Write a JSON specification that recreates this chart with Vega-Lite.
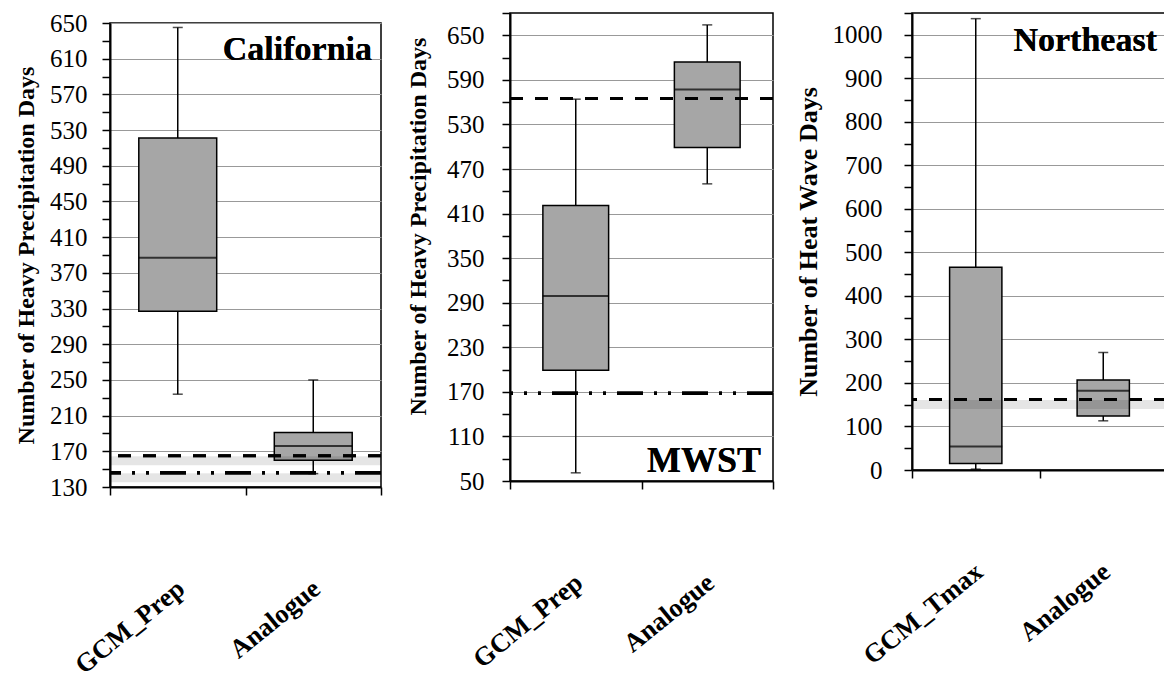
{
  "$schema": "https://vega.github.io/schema/vega-lite/v6.json",
  "background": "white",
  "padding": {"left": 13, "top": 10, "right": 0, "bottom": 0},
  "config": {
    "view": {"stroke": "black", "strokeWidth": 1.5},
    "font": "Liberation Serif",
    "axis": {
      "labelFont": "Liberation Serif", "labelFontSize": 25, "labelColor": "black",
      "titleFont": "Liberation Serif", "titleFontWeight": "bold", "titleColor": "black", "titleFontSize": 24,
      "tickColor": "black", "tickWidth": 1.5, "tickSize": 8,
      "domainColor": "black", "domainWidth": 2,
      "gridColor": "#999999", "gridWidth": 1
    },
    "axisX": {"grid": false, "labelAngle": -39, "labelFontWeight": "bold", "labelPadding": 80, "labelOffset": -5, "tickBand": "extent", "title": null, "labelFontSize": 26.5},
    "axisY": {"labelOverlap": false, "format": "d"}
  },
  "datasets": {
    "cal": [
      {"cat": "GCM_Prep", "lo": 234, "q1": 327, "med": 387, "q3": 521, "hi": 645},
      {"cat": "Analogue", "lo": 145, "q1": 160, "med": 176, "q3": 191, "hi": 250}
    ],
    "mwst": [
      {"cat": "GCM_Prep", "lo": 61, "q1": 199, "med": 299, "q3": 421, "hi": 564},
      {"cat": "Analogue", "lo": 450, "q1": 499, "med": 577, "q3": 614, "hi": 664}
    ],
    "ne": [
      {"cat": "GCM_Tmax", "lo": 2, "q1": 15, "med": 54, "q3": 466, "hi": 1037},
      {"cat": "Analogue", "lo": 113, "q1": 124, "med": 182, "q3": 207, "hi": 270}
    ]
  },
  "spacing": 18,
  "hconcat": [
    {
      "spacing": -4,
      "vconcat": [
        {"width": 271, "height": 1, "data": {"values": [{}]}, "mark": {"type": "point", "size": 0, "opacity": 0}, "encoding": {}, "view": {"stroke": null}},
        {
          "width": 271, "height": 464,
          "data": {"name": "cal"},
          "resolve": {"axis": {"y": "independent"}},
          "layer": [
            {"mark": {"type": "rule", "color": "black", "strokeWidth": 1.5},
             "encoding": {
               "x": {"field": "cat", "type": "nominal", "scale": {"type": "band", "domain": ["GCM_Prep", "Analogue"], "paddingInner": 0, "paddingOuter": 0}},
               "y": {"field": "lo", "type": "quantitative", "scale": {"domain": [130, 650], "nice": false, "zero": false},
                 "axis": {"title": "Number of Heavy Precipitation  Days", "titlePadding": 11, "labelPadding": 15, "labelOverlap": false,
                   "values": [130,170,210,250,290,330,370,410,450,490,530,570,610,650]}},
               "y2": {"field": "hi"}}},
            {"mark": {"type": "tick", "size": 10, "thickness": 1.5, "color": "black"},
             "encoding": {"x": {"field": "cat", "type": "nominal"}, "y": {"field": "hi", "type": "quantitative",
               "axis": {"orient": "left", "title": null, "labels": false, "grid": false, "domain": false,
                 "values": [150,190,230,270,310,350,390,430,470,510,550,590,630]}}}},
            {"mark": {"type": "tick", "size": 10, "thickness": 1.5, "color": "black"},
             "encoding": {"x": {"field": "cat", "type": "nominal"}, "y": {"field": "lo", "type": "quantitative", "axis": null}}},
            {"mark": {"type": "bar", "fill": "#a6a6a6", "stroke": "black", "strokeWidth": 1.5, "width": {"band": 0.575}},
             "encoding": {"x": {"field": "cat", "type": "nominal"}, "y": {"field": "q1", "type": "quantitative", "axis": null}, "y2": {"field": "q3"}}},
            {"mark": {"type": "tick", "size": 78, "thickness": 2, "color": "black"},
             "encoding": {"x": {"field": "cat", "type": "nominal"}, "y": {"field": "med", "type": "quantitative", "axis": null}}},
            {"mark": {"type": "rule", "color": "black", "strokeWidth": 9, "opacity": 0.05, "yOffset": 5},
             "encoding": {"y": {"datum": 165, "axis": null}}},
            {"mark": {"type": "rule", "color": "black", "strokeWidth": 9, "opacity": 0.05, "yOffset": 5},
             "encoding": {"y": {"datum": 146, "axis": null}}},
            {"mark": {"type": "rule", "color": "black", "strokeWidth": 3, "strokeDash": [13, 12]},
             "encoding": {"y": {"datum": 165, "axis": null}}},
            {"mark": {"type": "rule", "color": "black", "strokeWidth": 3.5, "strokeDash": [26, 11, 3, 11, 3, 11]},
             "encoding": {"y": {"datum": 146, "axis": null}}},
            {"mark": {"type": "text", "text": "California", "fontSize": 34, "fontWeight": "bold", "align": "right", "baseline": "alphabetic", "dx": -9, "color": "black"},
             "encoding": {"x": {"value": "width"}, "y": {"datum": 608, "axis": null}}}
          ]
        }
      ]
    },
    {
      "width": 263, "height": 468,
      "data": {"name": "mwst"},
      "resolve": {"axis": {"y": "independent"}},
      "layer": [
        {"mark": {"type": "rule", "color": "black", "strokeWidth": 1.5},
         "encoding": {
           "x": {"field": "cat", "type": "nominal", "scale": {"type": "band", "domain": ["GCM_Prep", "Analogue"], "paddingInner": 0, "paddingOuter": 0}},
           "y": {"field": "lo", "type": "quantitative", "scale": {"domain": [50, 680], "nice": false, "zero": false},
             "axis": {"title": "Number of Heavy Precipitation  Days", "titlePadding": 16, "titleY": 213, "labelPadding": 18, "labelOverlap": false,
               "values": [50,110,170,230,290,350,410,470,530,590,650]}},
           "y2": {"field": "hi"}}},
        {"mark": {"type": "tick", "size": 10, "thickness": 1.5, "color": "black"},
         "encoding": {"x": {"field": "cat", "type": "nominal"}, "y": {"field": "hi", "type": "quantitative",
           "axis": {"orient": "left", "title": null, "labels": false, "grid": false, "domain": false,
             "values": [80,140,200,260,320,380,440,500,560,620,680]}}}},
        {"mark": {"type": "tick", "size": 10, "thickness": 1.5, "color": "black"},
         "encoding": {"x": {"field": "cat", "type": "nominal"}, "y": {"field": "lo", "type": "quantitative", "axis": null}}},
        {"mark": {"type": "bar", "fill": "#a6a6a6", "stroke": "black", "strokeWidth": 1.5, "width": {"band": 0.5}},
         "encoding": {"x": {"field": "cat", "type": "nominal"}, "y": {"field": "q1", "type": "quantitative", "axis": null}, "y2": {"field": "q3"}}},
        {"mark": {"type": "tick", "size": 66, "thickness": 2, "color": "black"},
         "encoding": {"x": {"field": "cat", "type": "nominal"}, "y": {"field": "med", "type": "quantitative", "axis": null}}},
        {"mark": {"type": "rule", "color": "black", "strokeWidth": 3, "strokeDash": [13, 12]},
         "encoding": {"y": {"datum": 565, "axis": null}}},
        {"mark": {"type": "rule", "color": "black", "strokeWidth": 3.5, "strokeDash": [26, 11, 3, 11, 3, 11]},
         "encoding": {"y": {"datum": 168, "axis": null}}},
        {"mark": {"type": "text", "text": "MWST", "fontSize": 36, "fontWeight": "bold", "align": "right", "baseline": "alphabetic", "dx": -12, "color": "black"},
         "encoding": {"x": {"value": "width"}, "y": {"datum": 62, "axis": null}}}
      ]
    },
    {
      "width": 255, "height": 457,
      "data": {"name": "ne"},
      "resolve": {"axis": {"y": "independent"}},
      "layer": [
        {"mark": {"type": "rule", "color": "black", "strokeWidth": 1.5},
         "encoding": {
           "x": {"field": "cat", "type": "nominal", "scale": {"type": "band", "domain": ["GCM_Tmax", "Analogue"], "paddingInner": 0, "paddingOuter": 0}},
           "y": {"field": "lo", "type": "quantitative", "scale": {"domain": [0, 1050], "nice": false, "zero": false},
             "axis": {"title": "Number of Heat Wave Days", "titleFontSize": 26, "titlePadding": 11, "labelPadding": 22, "labelOverlap": false,
               "values": [0,100,200,300,400,500,600,700,800,900,1000]}},
           "y2": {"field": "hi"}}},
        {"mark": {"type": "tick", "size": 10, "thickness": 1.5, "color": "black"},
         "encoding": {"x": {"field": "cat", "type": "nominal"}, "y": {"field": "hi", "type": "quantitative",
           "axis": {"orient": "left", "title": null, "labels": false, "grid": false, "domain": false,
             "values": [50,150,250,350,450,550,650,750,850,950,1050]}}}},
        {"mark": {"type": "tick", "size": 10, "thickness": 1.5, "color": "black"},
         "encoding": {"x": {"field": "cat", "type": "nominal"}, "y": {"field": "lo", "type": "quantitative", "axis": null}}},
        {"mark": {"type": "bar", "fill": "#a6a6a6", "stroke": "black", "strokeWidth": 1.5, "width": {"band": 0.41}},
         "encoding": {"x": {"field": "cat", "type": "nominal"}, "y": {"field": "q1", "type": "quantitative", "axis": null}, "y2": {"field": "q3"}}},
        {"mark": {"type": "tick", "size": 53, "thickness": 2, "color": "black"},
         "encoding": {"x": {"field": "cat", "type": "nominal"}, "y": {"field": "med", "type": "quantitative", "axis": null}}},
        {"mark": {"type": "rule", "color": "black", "strokeWidth": 9, "opacity": 0.05, "yOffset": 5},
         "encoding": {"y": {"datum": 162, "axis": null}}},
        {"mark": {"type": "rule", "color": "black", "strokeWidth": 3, "strokeDash": [13, 12]},
         "encoding": {"y": {"datum": 162, "axis": null}}},
        {"mark": {"type": "text", "text": "Northeast", "fontSize": 34, "fontWeight": "bold", "align": "right", "baseline": "alphabetic", "dx": -10, "color": "black"},
         "encoding": {"x": {"value": "width"}, "y": {"datum": 962, "axis": null}}}
      ]
    }
  ]
}
